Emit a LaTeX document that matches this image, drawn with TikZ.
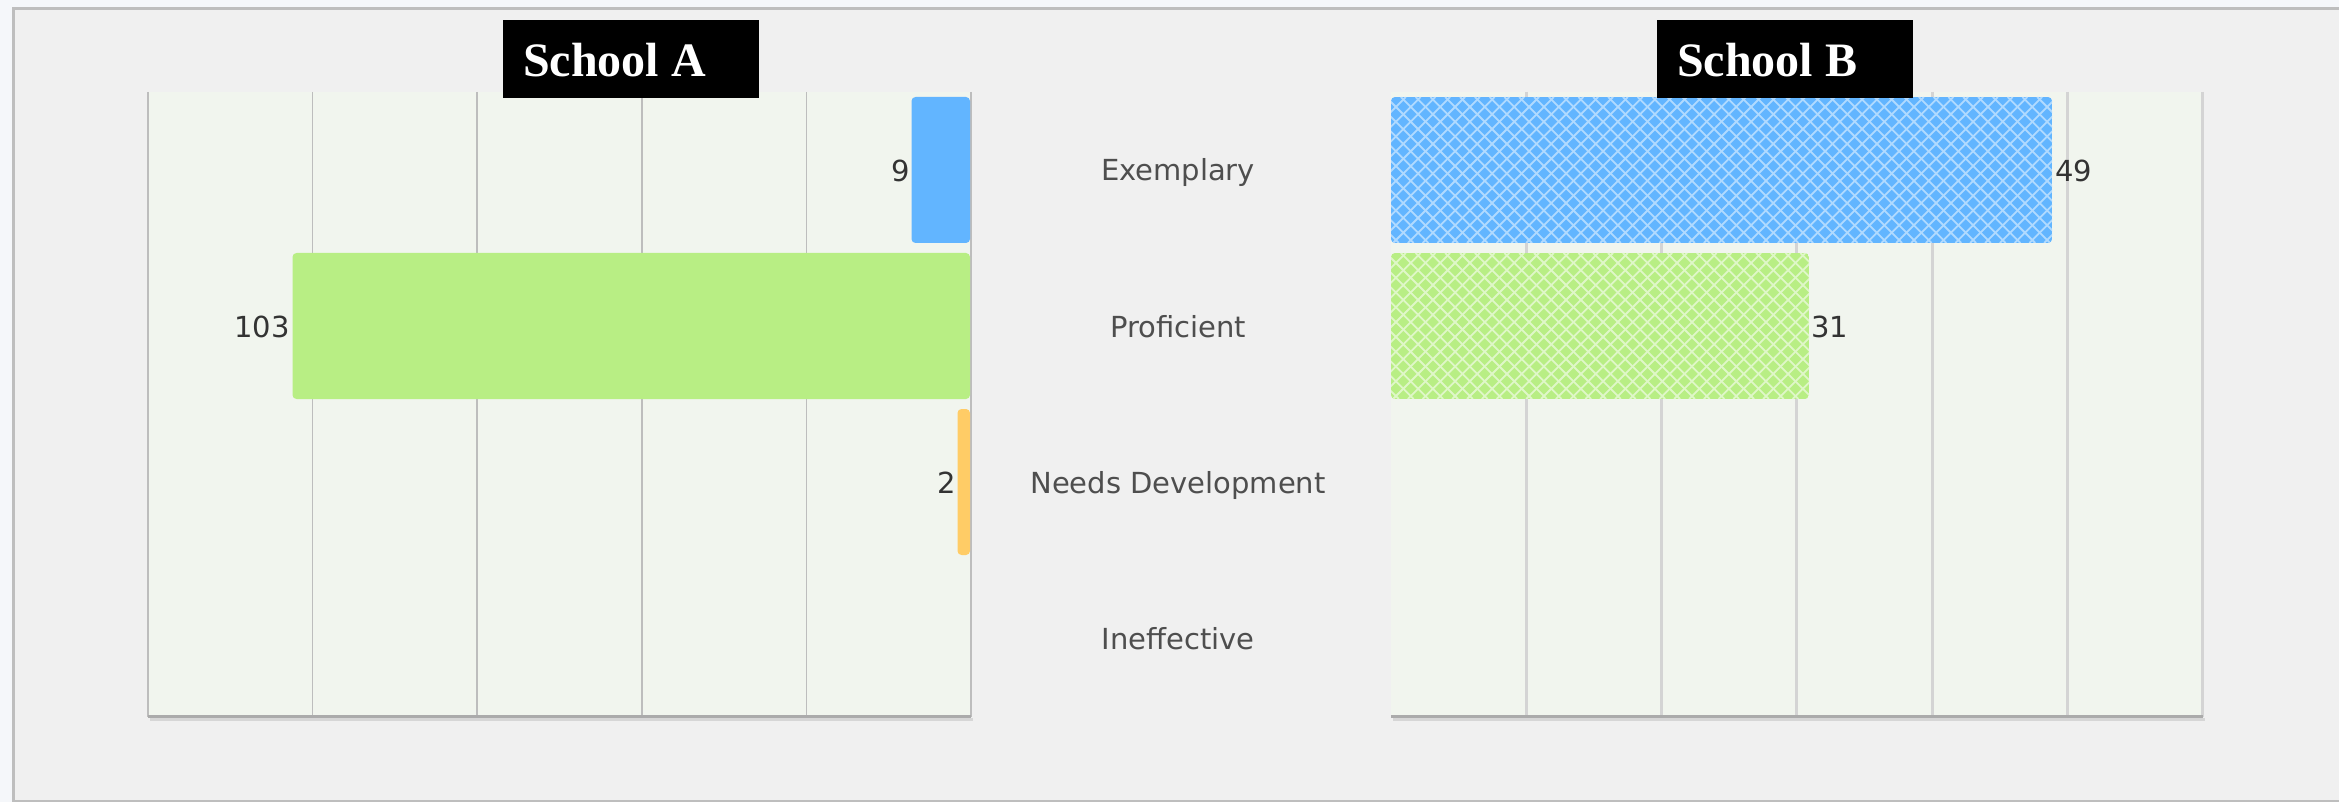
\documentclass[tikz,border=0pt]{standalone}
\usepackage{fontspec}
\setmainfont{DejaVu Sans}
\newfontfamily\titlefont{Liberation Serif}
\definecolor{outerbg}{HTML}{F5F7FA}
\definecolor{panelbg}{HTML}{F0F0F0}
\definecolor{frameline}{HTML}{BEBEBE}
\definecolor{plotbg}{HTML}{F1F5EE}
\definecolor{gridA}{HTML}{BDBDBD}
\definecolor{gridB}{HTML}{D4D4D4}
\definecolor{axisline}{HTML}{ABABAB}
\definecolor{axisshadow}{HTML}{D6D6D6}
\definecolor{barblue}{HTML}{62B5FF}
\definecolor{bargreen}{HTML}{B8EE84}
\definecolor{barorange}{HTML}{FFCC66}
\definecolor{labelgray}{HTML}{4E4E4E}
\definecolor{valuegray}{HTML}{333333}
\tikzset{
  gridlineA/.style={gridA, line width=1.5pt},
  gridlineB/.style={gridB, line width=3pt},
  axisbar/.style={axisline, line width=3pt},
  axisshade/.style={axisshadow, line width=2.5pt},
  solidbar/.style={rounded corners=4pt},
  hatchline/.style={line width=1.8pt},
  catlabel/.style={inner sep=0pt, anchor=base, text=labelgray, font=\fontsize{29}{34}\selectfont},
  vallabel/.style={inner sep=0pt, text=valuegray, font=\fontsize{29}{34}\selectfont},
  titlebox/.style={fill=black, inner sep=0pt, minimum width=256pt, minimum height=78pt, anchor=north west},
  titletext/.style={inner sep=0pt, anchor=base west, text=white, font=\titlefont\bfseries\fontsize{48}{56}\selectfont},
}
\begin{document}
\begin{tikzpicture}[x=1pt,y=-1pt]
\useasboundingbox (0,0) rectangle (2339,802);
\fill[outerbg] (0,0) rectangle (2339,802);
\fill[panelbg] (12,7) rectangle (2339,802);
\draw[frameline, line width=3pt] (13.5,802) -- (13.5,8.5) -- (2339,8.5);
\draw[frameline, line width=2pt] (12,801) -- (2339,801);

% ---------- School A plot ----------
\fill[plotbg] (148,92) rectangle (971,717);
\foreach \gx in {148,312.6,477.2,641.8,806.4,971}
  \draw[gridlineA] (\gx,92) -- (\gx,717);
\draw[axisshade] (150,719.5) -- (973,719.5);
\draw[axisbar] (148,716.5) -- (971,716.5);

\fill[barblue, solidbar] (911.5,97) rectangle (970,243);
\fill[bargreen, solidbar] (292.5,253) rectangle (970,399);
\fill[barorange, solidbar] (957.5,409) rectangle (970,555);

\node[vallabel, anchor=base east] (vA1) at (910,182) {9};
\node[vallabel, anchor=base east] (vA2) at (290,337) {103};
\node[vallabel, anchor=base east] (vA3) at (956,493) {2};

% ---------- School B plot ----------
\fill[plotbg] (1391,92) rectangle (2203,717);
\foreach \gx in {1526.3,1661.6,1796.9,1932.2,2067.5,2202.8}
  \draw[gridlineB] (\gx,92) -- (\gx,717);
\draw[axisshade] (1393,719.5) -- (2205,719.5);
\draw[axisbar] (1391,716.5) -- (2203,716.5);

% Exemplary (49), cross-hatched
\begin{scope}
  \clip[solidbar] (1391,97) rectangle (2052,243);
  \fill[barblue] (1391,97) rectangle (2052,243);
  \foreach \a in {0,...,56} {
    \draw[hatchline, white!50!barblue] (1238+\a*14.8,97) -- ++(146,146);
    \draw[hatchline, white!50!barblue] (1391+\a*14.8,97) -- ++(-146,146);
  }
\end{scope}
% Proficient (31), cross-hatched
\begin{scope}
  \clip[solidbar] (1391,253) rectangle (1809,399);
  \fill[bargreen] (1391,253) rectangle (1809,399);
  \foreach \a in {0,...,40} {
    \draw[hatchline, white!55!bargreen] (1238+\a*14.8,253) -- ++(146,146);
    \draw[hatchline, white!55!bargreen] (1391+\a*14.8,253) -- ++(-146,146);
  }
\end{scope}

\node[vallabel, anchor=base west] (vB1) at (2055,182) {49};
\node[vallabel, anchor=base west] (vB2) at (1811,337) {31};

% ---------- category labels ----------
\node[catlabel] (c1) at (1178,181) {Exemplary};
\node[catlabel] (c2) at (1178,337) {Proficient};
\node[catlabel] (c3) at (1178,493) {Needs Development};
\node[catlabel] (c4) at (1178,649) {Ineffective};

% ---------- titles ----------
\node[titlebox] (boxA) at (503,20) {};
\node[titletext] (titleA) at (523,77) {School A};
\node[titlebox] (boxB) at (1657,20) {};
\node[titletext] (titleB) at (1677,77) {School B};
\end{tikzpicture}
\end{document}
